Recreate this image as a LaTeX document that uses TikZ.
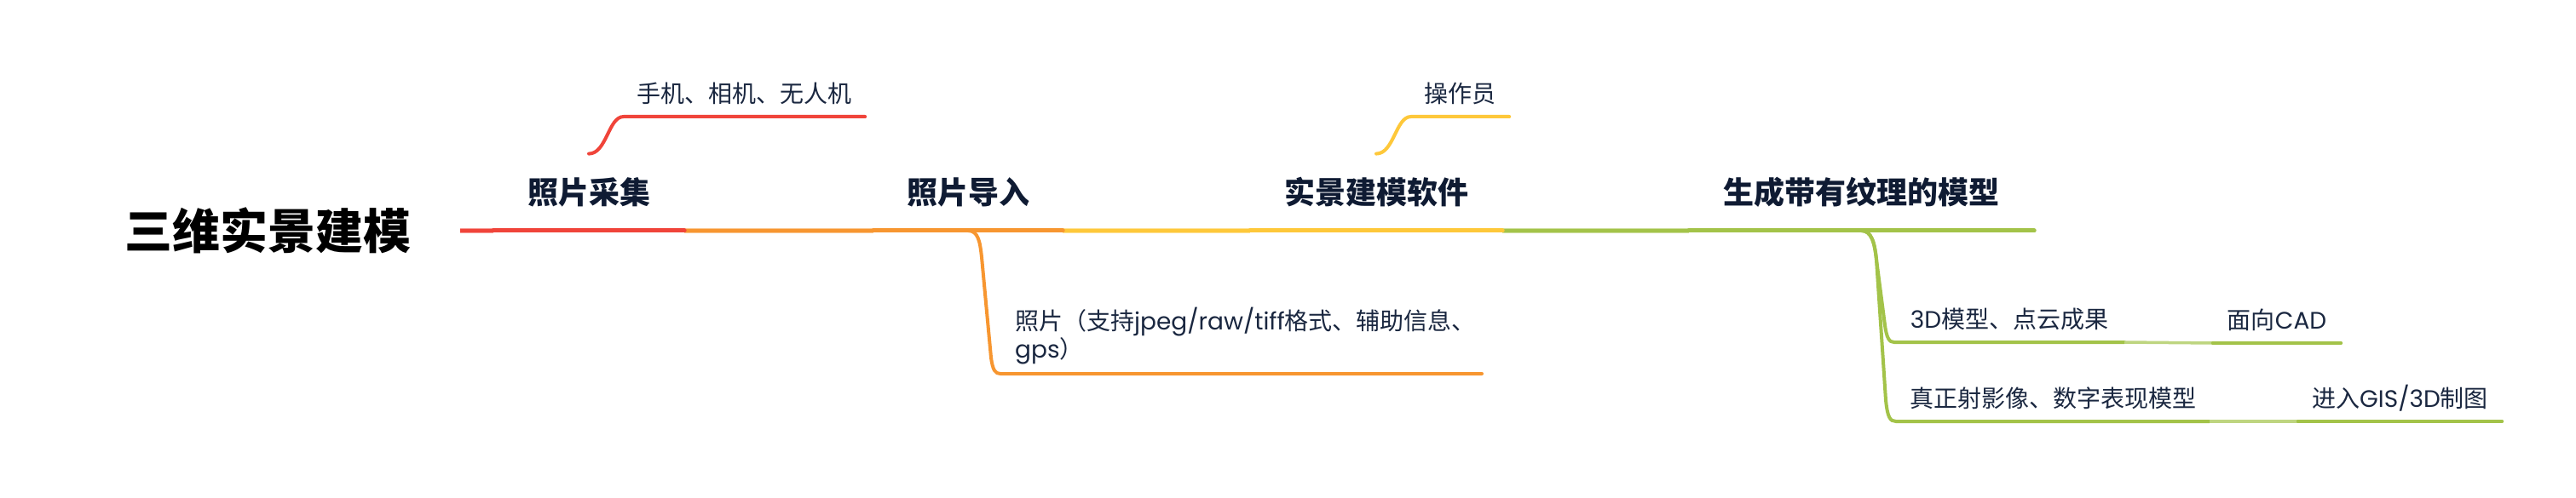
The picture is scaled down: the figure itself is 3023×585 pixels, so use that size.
\documentclass[tikz,border=0pt]{standalone}
\usepackage{fontspec}
\setmainfont{Noto Sans CJK SC}
\newfontfamily\poppinsf{Poppins}
\newcommand\latx[1]{{\poppinsf #1}}
\definecolor{navy}{HTML}{1A2740}
\definecolor{navydark}{HTML}{0F1B33}
\definecolor{cred}{HTML}{F0443A}
\definecolor{corange}{HTML}{F79630}
\definecolor{cyellow}{HTML}{FEC83A}
\definecolor{cgreen}{HTML}{A3C349}
\begin{document}
\begin{tikzpicture}[x=1pt,y=-1pt,
  every node/.style={inner sep=0pt},
  rootnode/.style={font=\fontsize{56}{60}\selectfont\bfseries, text=black,
    text height=50pt, text depth=6pt, inner xsep=58pt, anchor=base},
  mainnode/.style={font=\fontsize{36}{40}\selectfont\bfseries, text=navydark,
    text height=30pt, text depth=31pt, anchor=south},
  subnode/.style={font=\fontsize{28}{34}\selectfont, text=navy,
    text height=24pt, text depth=16pt, anchor=south},
  uline/.style={line width=5pt, line cap=round},
  sline/.style={line width=4pt, line cap=round},
  connout/.style={line width=6.5pt},
  connin/.style={line width=4.5pt},
  gline/.style={line width=3.5pt, cgreen!70!white}]
\fill[white] (0,0) rectangle (3023,585);
\useasboundingbox (0,0) rectangle (3023,585);

% nodes
\node[rootnode] (root) at (314,293) {三维实景建模};
\node[mainnode, minimum width=224pt] (m1) at (691,271) {照片采集};
\node[mainnode, minimum width=222pt] (m2) at (1136,271) {照片导入};
\node[mainnode, minimum width=296pt] (m3) at (1615,271) {实景建模软件};
\node[mainnode, minimum width=405pt] (m4) at (2184.5,271) {生成带有纹理的模型};

\node[subnode, minimum width=283pt] (s1) at (873.5,137) {手机、相机、无人机};
\node[subnode, minimum width=115pt] (s2) at (1713.5,137) {操作员};

\node[anchor=base west, font=\fontsize{28}{33}\selectfont, text=navy] (p1) at (1191,387)
  {\begin{tabular}[t]{@{}l@{}}照片（支持\latx{jpeg/raw/tiff}格式、辅助信息、\\\latx{gps}）\end{tabular}};
\coordinate (p1w) at (1174,439);
\coordinate (p1e) at (1739,439);

\node[subnode, minimum width=270pt] (c1) at (2358,402) {\latx{3D}模型、点云成果};
\node[subnode, minimum width=150pt] (g1) at (2672,403) {面向\latx{CAD}};
\node[subnode, minimum width=368pt] (c2) at (2409,495) {真正射影像、数字表现模型};
\node[subnode, minimum width=239pt] (g2) at (2816.5,495) {进入\latx{GIS/3D}制图};

% main line connectors
\draw[connout, cred!55!white] (root.east) -- (m1.south west);
\draw[connin, cred] (root.east) -- (m1.south west);
\draw[connout, corange!55!white] (m1.south east) -- (m2.south west);
\draw[connin, corange] (m1.south east) -- (m2.south west);
\draw[connout, cyellow!55!white] (m2.south east) -- (m3.south west);
\draw[connin, cyellow] (m2.south east) -- (m3.south west);
\draw[connout, cgreen!55!white] (m3.south east) -- (m4.south west);
\draw[connin, cgreen] (m3.south east) -- (m4.south west);

% underlines of main nodes
\draw[uline, cred] (m1.south west) -- (m1.south east);
\draw[uline, corange] (m2.south west) -- (m2.south east);
\draw[uline, cyellow] (m3.south west) -- (m3.south east);
\draw[uline, cgreen] (m4.south west) -- (m4.south east);

% upward branches
\draw[sline, cred] ([yshift=29pt]m1.north) .. controls +(21,0) and +(-18,0) .. (s1.south west) -- (s1.south east);
\draw[sline, cyellow] ([yshift=29pt]m3.north) .. controls +(21,0) and +(-18,0) .. (s2.south west) -- (s2.south east);

% downward branch of 照片导入
\draw[sline, corange] (m2.south) .. controls +(12,0) and (1150,284) .. (1152,302)
  -- (1163,420) .. controls (1165,435) and (1168,439) .. (p1w) -- (p1e);

% downward branches of 生成带有纹理的模型
\draw[sline, cgreen] (m4.south) .. controls +(12,0) and (2200,286) .. (2202,305)
  -- (2212,382) .. controls (2214,397) and (2217,402) .. (c1.south west) -- (c1.south east);
\draw[sline, cgreen] (m4.south) .. controls +(12,0) and (2200,286) .. (2202,305)
  -- (2213,470) .. controls (2215,490) and (2218,495) .. (c2.south west) -- (c2.south east);

% grandchildren
\draw[gline] (c1.south east) -- (g1.south west);
\draw[sline, cgreen] (g1.south west) -- (g1.south east);
\draw[gline] (c2.south east) -- (g2.south west);
\draw[sline, cgreen] (g2.south west) -- (g2.south east);
\end{tikzpicture}
\end{document}
